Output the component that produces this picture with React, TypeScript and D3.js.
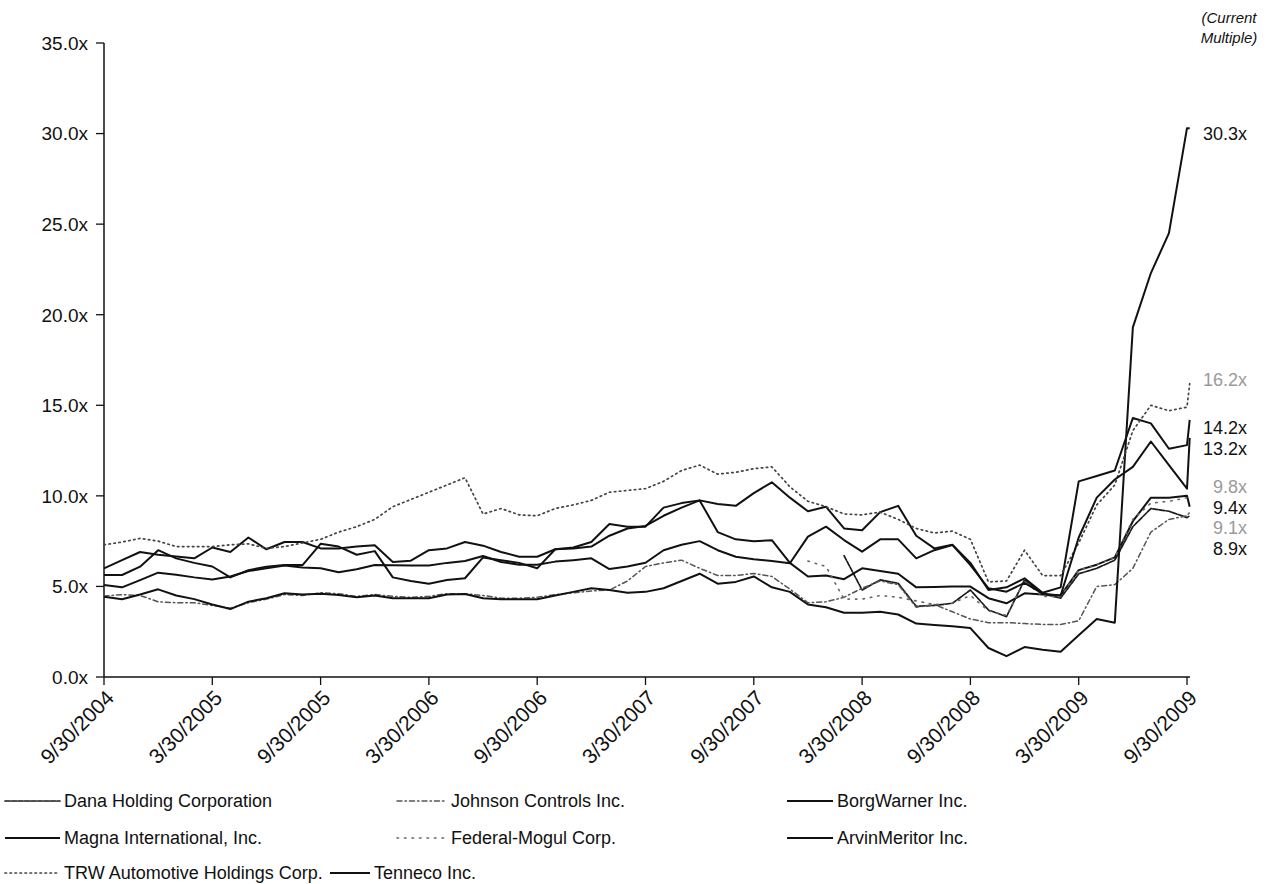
import React from 'react';
import * as d3 from 'd3';

// ---- Data (monthly observations, 9/30/2004 .. 9/30/2009, plus the current multiple) ----
const tickLabels = ['9/30/2004', '3/30/2005', '9/30/2005', '3/30/2006', '9/30/2006', '3/30/2007', '9/30/2007', '3/30/2008', '9/30/2008', '3/30/2009', '9/30/2009'];
const tickIndex = [0, 6, 12, 18, 24, 30, 36, 42, 48, 54, 60];
const yTicks = [0, 5, 10, 15, 20, 25, 30, 35];
const currentIndex = 60.15;

const dana: (number | null)[] = [
  null, null, null, null, null, null, null, null, null, null,
  null, null, null, null, null, null, null, null, null, null,
  null, null, null, null, null, null, null, null, null, null,
  null, null, null, null, null, null, null, null, null, null,
  null, 6.7, 4.8, 5.36, 5.17, 3.9, 3.95, 4.07, 4.8, 3.7,
  3.33, 5.36, 4.6, 4.35, 5.7, 6.0, 6.45, 8.3, 9.3, 9.15,
  8.8, 8.9];
const johnsonControls: (number | null)[] = [
  4.47, 4.55, 4.5, 4.15, 4.1, 4.1, 3.95, 3.8, 4.1, 4.3,
  4.55, 4.5, 4.65, 4.6, 4.45, 4.55, 4.45, 4.4, 4.45, 4.6,
  4.6, 4.5, 4.35, 4.35, 4.4, 4.55, 4.65, 4.75, 4.8, 5.3,
  6.1, 6.3, 6.45, 6.0, 5.6, 5.6, 5.72, 5.55, 4.85, 4.1,
  4.15, 4.4, 4.9, 5.3, 5.1, 3.85, 4.0, 3.6, 3.2, 3.0,
  3.0, 2.95, 2.9, 2.9, 3.1, 5.0, 5.1, 6.0, 8.0, 8.7,
  8.9, 9.1];
const borgWarner: (number | null)[] = [
  6.0, 6.45, 6.9, 6.75, 6.65, 6.55, 7.15, 6.9, 7.7, 7.05,
  7.45, 7.45, 7.1, 7.1, 7.2, 7.27, 6.35, 6.42, 7.0, 7.1,
  7.45, 7.25, 6.9, 6.64, 6.64, 7.05, 7.15, 7.45, 8.45, 8.3,
  8.3, 9.35, 9.6, 9.75, 9.55, 9.45, 10.15, 10.75, 9.9, 9.15,
  9.4, 8.2, 8.1, 9.1, 9.45, 7.8, 7.1, 7.3, 6.3, 4.8,
  4.95, 5.45, 4.65, 4.95, 10.8, 11.1, 11.4, 14.3, 14.0, 12.6,
  12.8, 14.2];
const magna: (number | null)[] = [
  5.63, 5.63, 6.09, 7.0, 6.55, 6.3, 6.1, 5.5, 5.9, 6.09,
  6.18, 6.18, 7.35, 7.2, 6.75, 6.95, 5.5, 5.3, 5.15, 5.35,
  5.45, 6.6, 6.45, 6.3, 6.0, 7.05, 7.1, 7.2, 7.8, 8.2,
  8.34, 8.9, 9.35, 9.75, 8.0, 7.6, 7.5, 7.55, 6.3, 5.55,
  5.6, 5.4, 6.0, 5.85, 5.7, 4.95, 4.97, 4.99, 4.99, 4.35,
  4.07, 4.62, 4.55, 4.5, 5.9, 6.2, 6.6, 8.6, 9.9, 9.9,
  10.0, 9.4];
const federalMogul: (number | null)[] = [
  null, null, null, null, null, null, null, null, null, null,
  null, null, null, null, null, null, null, null, null, null,
  null, null, null, null, null, null, null, null, null, null,
  null, null, null, null, null, null, null, null, null, 6.4,
  6.1, 4.3, 4.3, 4.5, 4.4, 4.2, 4.0, 4.07, 4.5, 3.65,
  3.4, 5.3, 4.45, 4.43, 5.9, 6.2, 6.6, 8.7, 9.6, 9.7,
  9.9, 9.8];
const arvinMeritor: (number | null)[] = [
  4.43, 4.29, 4.55, 4.84, 4.5, 4.3, 4.0, 3.75, 4.16, 4.35,
  4.62, 4.55, 4.6, 4.53, 4.4, 4.5, 4.35, 4.35, 4.35, 4.55,
  4.58, 4.35, 4.29, 4.29, 4.29, 4.5, 4.7, 4.9, 4.8, 4.65,
  4.7, 4.9, 5.3, 5.7, 5.15, 5.25, 5.55, 4.95, 4.7, 4.0,
  3.85, 3.55, 3.55, 3.6, 3.45, 2.95, 2.87, 2.8, 2.7, 1.6,
  1.15, 1.65, 1.5, 1.4, 2.3, 3.2, 3.0, 19.3, 22.3, 24.5,
  30.3, 30.3];
const trw: (number | null)[] = [
  7.3, 7.45, 7.65, 7.5, 7.2, 7.2, 7.2, 7.3, 7.35, 7.1,
  7.2, 7.4, 7.6, 8.0, 8.3, 8.7, 9.4, 9.8, 10.2, 10.6,
  11.0, 9.0, 9.3, 8.95, 8.9, 9.3, 9.5, 9.75, 10.2, 10.3,
  10.4, 10.8, 11.4, 11.7, 11.2, 11.3, 11.5, 11.6, 10.5, 9.7,
  9.4, 9.0, 8.95, 9.1, 8.7, 8.2, 7.95, 8.05, 7.6, 5.25,
  5.3, 7.0, 5.6, 5.6, 7.4, 9.5, 10.6, 13.6, 15.0, 14.7,
  14.9, 16.2];
const tenneco: (number | null)[] = [
  5.08, 4.95, 5.35, 5.76, 5.65, 5.5, 5.38, 5.55, 5.85, 6.0,
  6.15, 6.05, 6.0, 5.78, 5.95, 6.18, 6.17, 6.15, 6.15, 6.3,
  6.4, 6.68, 6.35, 6.2, 6.2, 6.37, 6.45, 6.55, 5.96, 6.1,
  6.31, 7.0, 7.3, 7.5, 7.0, 6.64, 6.5, 6.4, 6.28, 7.75,
  8.3, 7.56, 6.92, 7.6, 7.6, 6.55, 7.0, 7.29, 6.18, 4.9,
  4.71, 5.2, 4.6, 4.5, 7.7, 9.9, 10.9, 11.6, 13.0, 11.7,
  10.4, 13.2];

const seriesNames = ['Dana Holding Corporation', 'Johnson Controls Inc.', 'BorgWarner Inc.', 'Magna International, Inc.', 'Federal-Mogul Corp.', 'ArvinMeritor Inc.', 'TRW Automotive Holdings Corp.', 'Tenneco Inc.'];
const seriesValues = [dana, johnsonControls, borgWarner, magna, federalMogul, arvinMeritor, trw, tenneco];

// styles per series (same order)
const seriesStyles = [
  { color: '#1a1a1a', width: 1.7, dash: '5 1.5', faded: false },
  { color: '#555', width: 1.5, dash: '5 3 1.5 3', faded: true },
  { color: '#111', width: 2, dash: '', faded: false },
  { color: '#111', width: 2, dash: '', faded: false },
  { color: '#666', width: 1.6, dash: '1.5 6', faded: true },
  { color: '#111', width: 2, dash: '', faded: false },
  { color: '#444', width: 1.7, dash: '1.5 3.5', faded: true },
  { color: '#111', width: 2, dash: '', faded: false },
];

const FONT = '"Liberation Sans", Arial, Helvetica, sans-serif';

export default function App() {
  const W = 1269, H = 884;
  const x = d3.scaleLinear().domain([0, 60]).range([104, 1187]);
  const y = d3.scaleLinear().domain([0, 35]).range([677, 43]);
  const idxOf = (i: number) => (i === 61 ? currentIndex : i);

  const line = d3.line<number | null>()
    .defined((d) => d !== null)
    .x((_, i) => x(idxOf(i)))
    .y((d) => y(d as number));

  // end labels, spread apart to avoid overlap
  const endLabels = seriesValues.map((vals, k) => ({
    k,
    v: vals[vals.length - 1] as number,
    y: y(vals[vals.length - 1] as number) + 5,
  })).sort((a, b) => a.y - b.y);
  const gap = 20.5;
  for (let iter = 0; iter < 200; iter++) {
    for (let i = 1; i < endLabels.length; i++) {
      const d = endLabels[i].y - endLabels[i - 1].y;
      if (d < gap) {
        const push = (gap - d) / 2;
        endLabels[i].y += push;
        endLabels[i - 1].y -= push;
      }
    }
  }
  endLabels.forEach((l) => {
    if (l.v < 15 && l.v > 5) l.y += 4;
    else if (l.v >= 15 && l.v < 20) l.y -= 9;
  });

  const legendCols = [5, 397, 787];
  const legendRows = [801, 838, 873];
  const legendMarkerW = [55, 50, 46];

  return (
    <svg width={W} height={H} style={{ position: 'absolute', left: 0, top: 0, background: '#fff' }} fontFamily={FONT}>
      <rect x={0} y={0} width={W} height={H} fill="#fff" />
      {/* Y axis */}
      <line x1={x(0)} x2={x(0)} y1={y(35)} y2={y(0)} stroke="#111" strokeWidth={1.5} />
      {yTicks.map((t) => (
        <g key={t}>
          <line x1={x(0) - 8} x2={x(0)} y1={y(t)} y2={y(t)} stroke="#111" strokeWidth={1.3} />
          <text x={88} y={y(t)} dy="0.36em" textAnchor="end" fontSize={19} fill="#111">
            {d3.format('.1f')(t) + 'x'}
          </text>
        </g>
      ))}
      {/* X axis */}
      <line x1={x(0)} x2={x(60) + 3} y1={y(0)} y2={y(0)} stroke="#111" strokeWidth={1.5} />
      {tickIndex.map((t, i) => (
        <g key={t}>
          <line x1={x(t)} x2={x(t)} y1={y(0)} y2={y(0) + 8} stroke="#111" strokeWidth={1.3} />
          <text
            transform={`translate(${x(t) + 6},${y(0) + 17}) rotate(-45)`}
            textAnchor="end"
            dy="0.35em"
            fontSize={21}
            fill="#111"
          >
            {tickLabels[i]}
          </text>
        </g>
      ))}
      {/* Series lines */}
      {seriesValues.map((vals, k) => (
        <path
          key={seriesNames[k]}
          d={line(vals) || ''}
          fill="none"
          stroke={seriesStyles[k].color}
          strokeWidth={seriesStyles[k].width}
          strokeDasharray={seriesStyles[k].dash}
          strokeLinejoin="round"
          strokeLinecap={seriesStyles[k].dash ? 'round' : 'butt'}
        />
      ))}
      {/* Current multiple labels */}
      <text x={1229} y={18} dy="0.35em" textAnchor="middle" fontSize={15} fontStyle="italic" fill="#111">(Current</text>
      <text x={1229} y={38} dy="0.35em" textAnchor="middle" fontSize={15} fontStyle="italic" fill="#111">Multiple)</text>
      {endLabels.map((l) => (
        <text key={l.k} x={1247} y={l.y} dy="0.36em" textAnchor="end" fontSize={18}
          fill={seriesStyles[l.k].faded ? '#9a9a9a' : '#111'}>
          {d3.format('.1f')(l.v) + 'x'}
        </text>
      ))}
      {/* Legend */}
      {seriesNames.map((name, k) => {
        const col = k % 3;
        const row = Math.floor(k / 3);
        let lx = legendCols[col];
        if (k === 7) lx = 330;
        const ly = legendRows[row];
        const mw = k === 7 ? 40 : legendMarkerW[col];
        const st = seriesStyles[k];
        return (
          <g key={name}>
            <line x1={lx} x2={lx + mw} y1={ly} y2={ly} stroke={st.color} strokeWidth={st.width}
              strokeDasharray={st.dash} strokeLinecap={st.dash ? 'round' : 'butt'} />
            <text x={lx + mw + 4} y={ly} dy="0.36em" fontSize={18} fill="#111">{name}</text>
          </g>
        );
      })}
    </svg>
  );
}
